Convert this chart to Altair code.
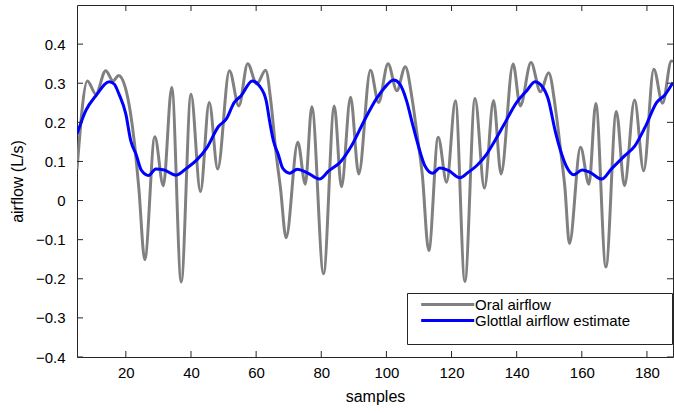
import altair as alt
import pandas as pd

# ---- data ----
oral_x = [5, 8.2, 10.8, 13.8, 16.1, 17.8, 19.8, 21.3, 22.6, 24.0, 25.8, 28.9, 31.5, 34.1,
          37.0, 40.0, 42.9, 45.6, 48.2, 51.8, 54.7, 57.4, 60.2, 62.9, 64.7, 66.0, 67.5,
          69.2, 72.8, 75.1, 77.1, 80.7, 84.0, 86.2, 89.0, 91.5, 95.1, 97.6, 100.5, 103.2,
          105.8, 107.9, 109.4, 111.0, 113.0, 115.9, 118.5, 121.2, 124.1, 127.2, 130.1,
          132.9, 135.2, 138.9, 141.1, 144.4, 147.3, 149.8, 152.0, 153.5, 154.8, 156.2,
          159.6, 162.2, 164.3, 167.4, 170.6, 173.1, 176.2, 179.0, 182.1, 184.8, 187.5, 188.0]
oral_y = [0.08, 0.306, 0.272, 0.332, 0.306, 0.32, 0.29, 0.23, 0.15, 0.03, -0.151, 0.163, 0.038, 0.289,
          -0.208, 0.272, 0.023, 0.251, 0.081, 0.332, 0.242, 0.35, 0.298, 0.333, 0.24, 0.13, 0.03,
          -0.095, 0.149, 0.042, 0.24, -0.187, 0.242, 0.035, 0.264, 0.068, 0.333, 0.251, 0.35, 0.281,
          0.342, 0.26, 0.17, 0.068, -0.128, 0.162, 0.047, 0.255, -0.207, 0.261, 0.032,
          0.256, 0.068, 0.349, 0.242, 0.353, 0.278, 0.327, 0.23, 0.128, 0.034, -0.11,
          0.136, 0.042, 0.248, -0.17, 0.228, 0.038, 0.257, 0.076, 0.336, 0.249, 0.357, 0.355]

glot_x = [5, 7.7, 10.8, 14.9, 16.4, 17.9, 20.0, 21.5, 23.1, 24.8, 27.0, 29.2, 31.8, 35.4, 38.7,
          41.8, 44.8, 48.5, 50.8, 53.3, 55.4, 58.8, 61.0, 63.1, 64.2, 65.3, 66.8, 68.2, 70.3, 72.6,
          75.7, 79.5, 82.2, 86.0, 89.3, 93.3, 96.9, 99.5, 102.2, 104.1, 106.2, 108.0, 109.8, 111.8,
          114.2, 116.4, 119.0, 122.6, 125.1, 127.7, 130.8, 133.3, 135.9, 140.0, 143.1, 145.6, 147.7,
          149.7, 151.8, 153.8, 155.4, 157.5, 160.1, 162.5, 166.1, 169.1, 173.2, 176.3, 179.4, 183.0,
          185.5, 188.0]
glot_y = [0.17, 0.23, 0.268, 0.304, 0.298, 0.272, 0.221, 0.153, 0.119, 0.077, 0.064, 0.081, 0.078,
          0.065, 0.083, 0.104, 0.134, 0.19, 0.208, 0.251, 0.268, 0.306, 0.293, 0.255, 0.2, 0.153,
          0.118, 0.082, 0.07, 0.08, 0.071, 0.055, 0.075, 0.1, 0.14, 0.206, 0.26, 0.289, 0.308, 0.298,
          0.255, 0.196, 0.14, 0.089, 0.07, 0.083, 0.077, 0.058, 0.072, 0.089, 0.119, 0.153, 0.191,
          0.251, 0.281, 0.304, 0.293, 0.259, 0.179, 0.119, 0.085, 0.066, 0.078, 0.072, 0.055, 0.081,
          0.115, 0.14, 0.187, 0.251, 0.27, 0.302]

series_names = ["Oral airflow", "Glottlal airflow estimate"]
series_colors = ["#808080", "#0000ff"]
x_ticks = [20, 40, 60, 80, 100, 120, 140, 160, 180]
y_ticks = [-0.4, -0.3, -0.2, -0.1, 0, 0.1, 0.2, 0.3, 0.4]

df = pd.concat([
    pd.DataFrame({"sample": oral_x, "airflow": oral_y, "series": series_names[0]}),
    pd.DataFrame({"sample": glot_x, "airflow": glot_y, "series": series_names[1]}),
], ignore_index=True)

W, H = 596, 352
FONT = "Liberation Sans"
INK = "#262626"

xs = alt.Scale(domain=[5, 188], nice=False, zero=False)
ys = alt.Scale(domain=[-0.4, 0.5], nice=False, zero=False)

x_axis = alt.Axis(values=x_ticks, title="samples", labelPadding=8, titlePadding=8)
y_axis = alt.Axis(values=y_ticks, title="airflow (L/s)", labelPadding=12,
                  titlePadding=10, format=".1~f")
x_enc = alt.X("sample:Q", scale=xs, axis=x_axis)
y_enc = alt.Y("airflow:Q", scale=ys, axis=y_axis)

color = alt.Color(
    "series:N",
    scale=alt.Scale(domain=series_names, range=series_colors),
    legend=alt.Legend(
        orient="none", legendX=330, legendY=288,
        title="\u2800" * 41, titleOrient="bottom", titleFont="DejaVu Sans",
        titleFontSize=8, titlePadding=3, titleLimit=2000,
        symbolType="M-1,0H15", symbolSize=44, symbolStrokeWidth=3, symbolOffset=6,
        labelOffset=43, labelFont=FONT, labelFontSize=15, labelColor="#000000",
        rowPadding=-4, padding=4, strokeColor=INK, fillColor="white",
        labelLimit=400,
    ),
)

base = alt.Chart(df)
oral = base.transform_filter(alt.datum.series == series_names[0]).mark_line(
    strokeWidth=3, interpolate="monotone", clip=True
).encode(x=x_enc, y=y_enc, color=color)
glot = base.transform_filter(alt.datum.series == series_names[1]).mark_line(
    strokeWidth=3, interpolate="monotone", clip=True
).encode(x=x_enc, y=y_enc, color=color)

xt = pd.DataFrame({"sample": x_ticks})
yt = pd.DataFrame({"airflow": y_ticks})
TL = 6
tick_bottom = alt.Chart(xt).mark_rule(color=INK, strokeWidth=1).encode(
    x=x_enc, y=alt.value(H), y2=alt.value(H - TL))
tick_top = alt.Chart(xt).mark_rule(color=INK, strokeWidth=1).encode(
    x=x_enc, y=alt.value(0), y2=alt.value(TL))
tick_left = alt.Chart(yt).mark_rule(color=INK, strokeWidth=1).encode(
    y=y_enc, x=alt.value(0), x2=alt.value(TL))
tick_right = alt.Chart(yt).mark_rule(color=INK, strokeWidth=1).encode(
    y=y_enc, x=alt.value(W - TL), x2=alt.value(W))

chart = alt.layer(oral, glot, tick_bottom, tick_top, tick_left, tick_right).properties(
    width=W, height=H,
    background="white",
    autosize=alt.AutoSizeParams(type="none"),
    padding={"left": 77, "top": 5, "right": 1, "bottom": 56},
).configure_view(
    stroke=INK, strokeWidth=1
).configure_axis(
    labelFont=FONT, labelFontSize=15, labelColor="#000000",
    titleFont=FONT, titleFontSize=16, titleFontWeight="normal", titleColor="#000000",
    ticks=False, domain=False, grid=False,
)

chart.save("out.html", embed_options={"renderer": "svg", "actions": False})
